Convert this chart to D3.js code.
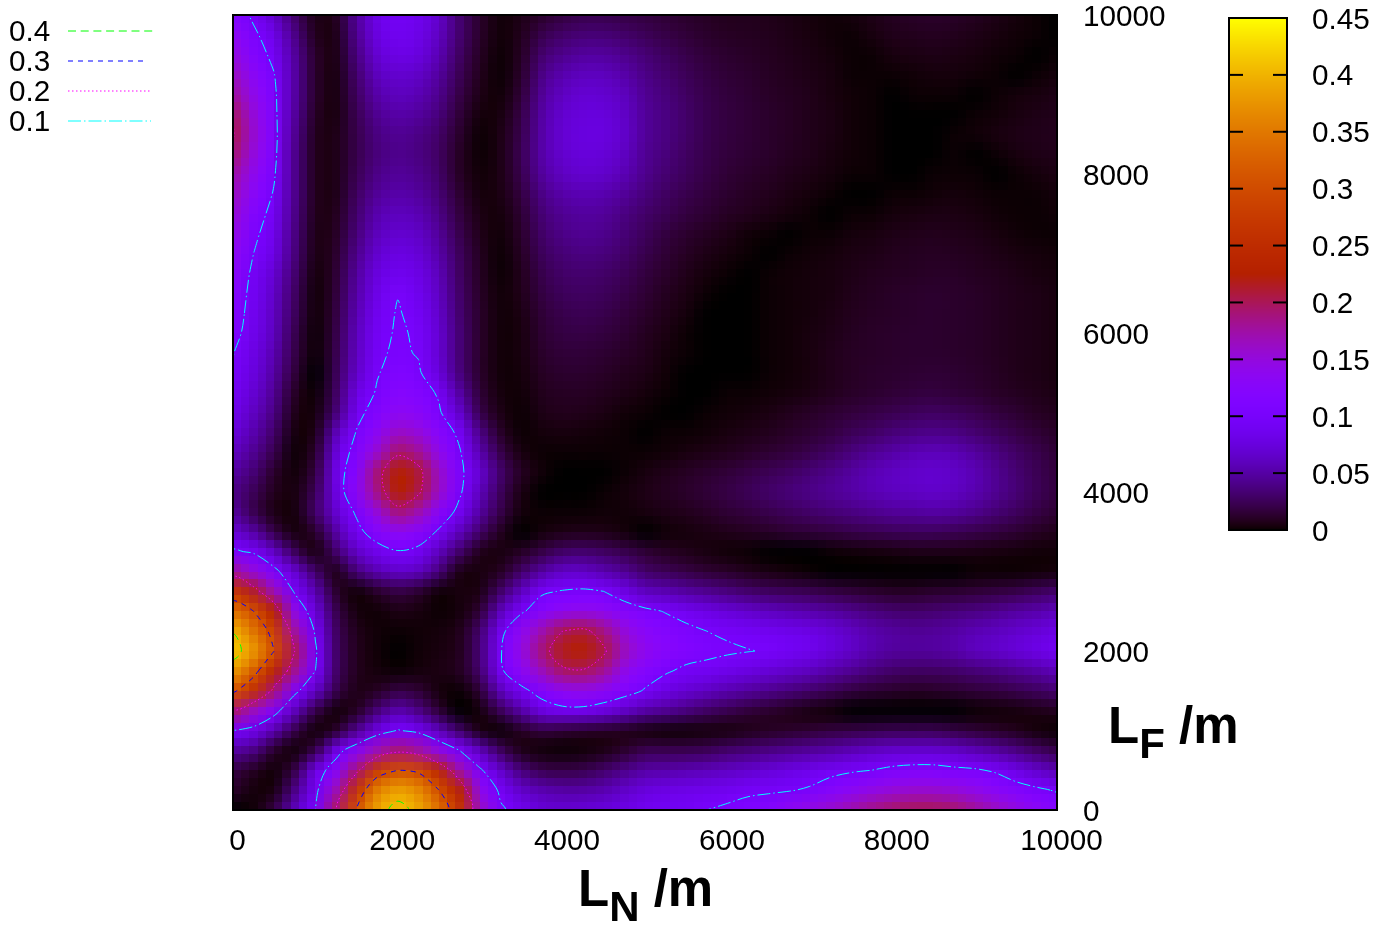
<!DOCTYPE html>
<html>
<head>
<meta charset="utf-8">
<style>
  html, body { margin: 0; background: #fff; }
  #chart { position: relative; width: 1392px; height: 928px; overflow: hidden; }
  canvas { position: absolute; image-rendering: pixelated; }
  svg { position: absolute; left: 0; top: 0; font-family: "Liberation Sans", Arial, sans-serif; }
  .domain { display: none; }
  .tick text { font-size: 29.7px; fill: #000; }
</style>
</head>
<body>
<div id="chart"></div>
<script src="https://d3js.org/d3.v7.min.js"></script>
<script>
// grid, 250 m steps, values in 1/1000
let lnGrid = d3.range(0, 10001, 250)
let lfGrid = d3.range(10000, -1, -250) // top row first
let zRows = [
[116,94,66,30,6, 8,48,82,92,86, 66,32,12,2,6, 12,18,22,22,20, 18,15,12,10,8, 8,7,5,3,2, 3,6,9,11,12, 11,9,6,3,1, 0],
[135,106,82,40,8, 6,44,78,88,82, 62,32,12,2,8, 22,30,34,34,30, 25,20,16,12,10, 9,8,6,4,2, 1,4,7,8,9, 8,6,4,2,1, 0],
[150,116,92,48,12, 5,38,70,80,76, 56,28,10,1,10, 32,42,48,48,42, 34,27,21,16,13, 11,9,7,5,3, 1,1,4,5,6, 5,4,2,1,0, 1],
[165,130,101,50,12, 4,32,60,68,64, 48,24,8,1,12, 40,54,60,60,52, 40,32,25,19,15, 13,10,8,6,4, 1,1,1,2,3, 3,2,1,0,1, 3],
[178,140,106,50,12, 4,28,52,60,56, 42,20,6,2,16, 46,62,70,68,60, 44,36,28,21,17, 14,11,9,7,4, 2,1,0,1,1, 1,0,1,3,4, 6],
[196,150,108,48,10, 4,24,44,52,48, 36,16,3,4,20, 50,68,74,74,64, 46,38,30,22,18, 15,12,10,7,5, 2,1,0,0,0, 0,1,2,4,6, 7],
[202,155,110,44,8, 6,22,38,44,40, 30,12,1,6,22, 52,70,76,76,66, 46,38,30,22,18, 15,12,10,7,5, 2,1,0,0,0, 1,2,4,6,7, 8],
[192,148,108,42,8, 6,22,36,42,38, 28,10,1,6,24, 52,68,74,72,62, 44,36,28,21,17, 14,12,9,7,4, 2,1,0,0,0, 1,0,1,4,6, 7],
[175,138,103,42,8, 6,24,40,46,42, 30,10,2,6,22, 48,62,68,66,56, 42,33,26,20,15, 12,10,7,5,3, 1,1,0,0,1, 1,1,0,1,3, 5],
[165,128,97,42,8, 6,28,46,52,48, 34,14,3,5,18, 40,52,56,54,46, 36,28,22,17,13, 10,8,5,3,1, 0,0,1,1,2, 3,2,1,1,1, 3],
[155,115,90,40,7, 8,32,54,60,56, 40,18,5,3,14, 34,44,48,46,38, 30,24,18,14,10, 8,5,3,1,0, 1,1,3,4,5, 5,4,2,1,1, 2],
[145,106,85,38,6, 10,36,60,68,64, 46,22,7,2,12, 30,40,44,42,34, 26,18,13,9,6, 2,1,0,1,1, 3,4,6,7,8, 7,6,4,2,1, 1],
[135,100,80,36,5, 12,42,68,78,72, 52,26,9,1,10, 26,34,38,36,30, 22,15,10,6,3, 1,0,1,2,3, 5,6,8,9,10, 9,8,6,4,3, 2],
[128,93,70,32,3, 14,48,76,86,80, 58,28,10,1,8, 22,30,32,30,25, 18,12,7,3,1, 0,1,2,3,4, 6,8,9,10,11, 11,9,8,6,4, 3],
[120,90,65,28,2, 16,52,82,99,86, 62,30,11,2,7, 19,26,28,26,21, 15,9,5,1,0, 0,1,2,3,4, 7,9,11,12,13, 12,11,9,7,6, 4],
[115,88,62,26,2, 18,56,88,102,92, 66,32,12,2,5, 16,22,24,22,17, 12,7,3,0,0, 0,1,2,3,5, 8,10,11,12,13, 12,11,9,7,6, 4],
[110,85,60,22,1, 20,60,92,103,97, 70,34,12,2,4, 14,19,20,18,14, 9,5,1,0,0, 0,1,2,4,6, 9,11,12,13,13, 12,11,9,7,6, 4],
[101,80,55,20,1, 22,62,95,105,98, 70,34,12,2,4, 12,16,16,14,11, 8,3,1,0,0, 0,1,2,4,7, 10,11,12,13,13, 12,11,9,7,6, 4],
[96,76,50,16,0, 24,66,98,112,104, 75,36,12,2,3, 10,13,13,11,8, 6,2,0,0,0, 0,1,2,4,7, 10,12,13,14,15, 14,12,10,7,6, 4],
[90,70,44,10,1, 28,80,103,122,115, 96,50,16,3,2, 8,10,10,8,6, 3,1,0,0,1, 1,2,3,5,8, 11,13,15,17,18, 16,14,11,9,7, 5],
[84,62,38,6,3, 34,90,115,135,128, 104,68,22,5,1, 6,8,7,5,2, 1,0,0,1,2, 3,5,8,11,14, 17,20,23,26,28, 26,23,18,14,10, 8],
[75,54,30,3,6, 58,102,132,160,150, 122,92,40,10,1, 3,4,3,2,1, 0,1,1,2,4, 6,8,11,14,18, 24,28,34,38,40, 38,32,26,20,15, 11],
[62,44,22,1,12, 75,113,155,195,180, 140,103,55,20,4, 1,1,1,1,1, 1,2,4,6,8, 11,14,17,22,28, 36,44,50,56,58, 56,48,38,29,22, 15],
[50,34,12,2,18, 85,120,190,225,210, 160,108,70,30,10, 2,0,0,0,1, 4,7,10,13,16, 20,24,28,34,40, 48,56,62,66,68, 64,56,44,33,24, 17],
[40,25,8,4,25, 80,130,185,225,205, 160,105,60,25,5, 0,0,0,1,3, 6,9,12,16,20, 25,30,35,40,45, 50,56,60,63,65, 62,54,44,34,25, 18],
[48,22,5,3,30, 70,105,150,190,170, 125,90,50,20,3, 1,1,1,2,2, 4,6,8,11,15, 18,22,26,30,34, 38,42,46,48,50, 48,42,34,27,20, 14],
[70,50,20,3,12, 50,90,118,135,125, 95,60,30,8,0, 3,6,7,6,3, 0,2,3,5,7, 9,11,14,16,18, 21,23,25,26,26, 24,21,18,14,10, 7],
[105,95,65,25,4, 30,65,85,98,90, 60,30,7,4,10, 20,30,32,28,22, 15,10,7,4,2, 1,0,0,0,1, 2,3,4,6,6, 6,5,4,3,2, 2],
[180,150,110,70,30, 6,35,55,65,60, 35,5,4,10,30, 50,65,65,55,45, 30,25,20,15,12, 8,5,3,1,0, 0,0,0,0,0, 0,1,1,1,2, 3],
[265,215,165,95,55, 12,2,12,20,14, 2,4,5,30,60, 95,102,105,100,80, 60,55,48,42,36, 30,26,24,22,18, 15,12,10,10,12, 13,15,17,20,25, 30],
[340,300,225,135,75, 22,3,2,6,4, 1,3,15,60,95, 120,135,140,135,120, 108,98,88,80,72, 66,60,56,52,48, 42,36,32,30,32, 35,38,42,48,52, 58],
[398,345,280,175,95, 28,7,2,1,2, 3,7,32,90,135, 170,200,208,185,150, 128,118,108,100,96, 92,88,84,80,72, 62,53,48,45,46, 50,56,60,66,72, 80],
[415,378,300,200,105, 30,8,2,0,2, 4,8,35,98,145, 190,218,225,205,165, 138,125,115,108,104, 101,98,92,85,75, 64,54,48,47,48, 52,60,65,72,80, 88],
[380,320,235,180,100, 30,8,3,1,3, 5,9,32,95,130, 165,195,198,180,140, 118,104,93,90,84, 78,72,66,60,52, 44,36,30,28,28, 30,34,38,44,50, 58],
[310,255,190,110,65, 22,6,10,20,15, 3,1,15,60,90, 115,135,140,130,115, 97,80,70,62,54, 48,42,36,30,24, 18,14,12,10,11, 13,16,18,22,26, 32],
[195,160,115,60,20, 2,10,35,55,40, 15,0,3,25,50, 80,90,90,80,65, 50,44,36,28,22, 16,12,8,4,2, 0,0,0,0,0, 0,1,2,3,6, 8],
[100,85,55,20,2, 12,45,80,102,90, 60,30,5,1,10, 18,15,12,10,8, 4,2,2,3,4, 7,10,12,15,18, 20,22,24,24,24, 20,16,12,8,3, 1],
[50,40,12,2,20, 85,125,165,190,175, 135,100,60,25,6, 2,1,2,5,12, 22,22,22,24,30, 34,38,42,46,50, 56,62,66,68,68, 64,56,48,38,28, 20],
[20,10,2,20,80, 120,190,270,300,290, 235,170,105,65,35, 22,20,22,30,40, 50,52,55,58,62, 67,72,78,83,90, 96,100,108,112,112, 107,104,96,80,66, 55],
[12,3,4,40,90, 165,260,355,385,365, 300,230,140,92,65, 55,50,50,55,65, 75,80,82,85,88, 94,96,98,104,118, 130,142,150,155,155, 150,140,128,115,106, 97],
[0,2,20,60,100, 195,305,385,412,390, 340,260,165,105,85, 72,70,72,75,80, 88,90,92,100,106, 112,118,135,145,158, 172,185,195,200,200, 195,180,165,148,132, 118]
]

let contourLevels = [0.4, 0.3, 0.2, 0.1]
let contourColors = ["#00ff00", "#0000ff", "#ff00ff", "#00ffff"]
let contourDashes = ["8,4.7", "5,5", "1.5,2.5", "13,3,1.5,3"]
let legendEnds = [155, 148, 151, 151]
let xTicks = [0, 2000, 4000, 6000, 8000, 10000]
let yTicks = [0, 2000, 4000, 6000, 8000, 10000]
let cbTicks = [0, 0.05, 0.1, 0.15, 0.2, 0.25, 0.3, 0.35, 0.4, 0.45]

let plot = {left: 233, right: 1057, top: 15, bottom: 810}
let cb = {left: 1229, right: 1287, top: 18, bottom: 530}
let cells = 100 // heatmap cell count per side

let x = d3.scaleLinear().domain([0, 10000]).range([plot.left, plot.right])
let y = d3.scaleLinear().domain([0, 10000]).range([plot.bottom, plot.top])
let cbY = d3.scaleLinear().domain([0, 0.45]).range([cb.bottom, cb.top])
let level = d3.scaleLinear().domain([0, 0.45]).range([0, 1]).clamp(true)

// gnuplot default palette (rgbformulae 7,5,15)
function palette(v) {
    let g = level(v)
    let b = Math.max(0, Math.sin(2 * Math.PI * g))
    return [Math.sqrt(g) * 255, g * g * g * 255, b * 255]
}

let chart = d3.select("#chart")

// heatmap: read-off grid to a small bitmap, resampled by the browser into blocks
let nx = lnGrid.length, ny = lfGrid.length
let small = document.createElement("canvas")
small.width = nx
small.height = ny
let sctx = small.getContext("2d")
let img = sctx.createImageData(nx, ny)
zRows.forEach((row, j) => row.forEach((z, i) => {
    let c = palette(z / 1000)
    let k = 4 * (j * nx + i)
    img.data[k] = c[0]; img.data[k + 1] = c[1]; img.data[k + 2] = c[2]; img.data[k + 3] = 255
}))
sctx.putImageData(img, 0, 0)

let heat = chart.append("canvas")
    .attr("width", cells).attr("height", cells)
    .style("left", plot.left + "px").style("top", plot.top + "px")
    .style("width", (x(10000) - x(0)) + "px").style("height", (y(0) - y(10000)) + "px")
let hctx = heat.node().getContext("2d")
hctx.imageSmoothingEnabled = true
hctx.imageSmoothingQuality = "high"
let half = cells / (nx - 1) / 2
hctx.drawImage(small, -half, -half, cells + 2 * half, cells + 2 * half)

let svg = chart.append("svg").attr("width", 1392).attr("height", 928)

svg.append("defs").append("clipPath").attr("id", "plotclip").append("rect")
    .attr("x", plot.left).attr("y", plot.top)
    .attr("width", plot.right - plot.left).attr("height", plot.bottom - plot.top)

// contours on the same grid
let gx = d3.scaleLinear().domain([0, nx - 1]).range([lnGrid[0], lnGrid[nx - 1]])
let gy = d3.scaleLinear().domain([0, ny - 1]).range([lfGrid[0], lfGrid[ny - 1]])
let contourLine = d3.line()
    .x(p => x(gx(p[0] - 0.5)))
    .y(p => y(gy(p[1] - 0.5)))
    .curve(d3.curveCatmullRomClosed.alpha(0.5))
let contourData = d3.contours().size([nx, ny]).smooth(true)
    .thresholds(contourLevels.map(d => d * 1000))(d3.merge(zRows))

svg.append("g").attr("clip-path", "url(#plotclip)")
    .selectAll("path").data(contourData).join("path")
    .attr("d", d => d.coordinates.flat().map(ring => contourLine(ring.slice(1))).join(""))
    .attr("fill", "none")
    .attr("stroke", d => contourColors[contourLevels.indexOf(d.value / 1000)])
    .attr("stroke-dasharray", d => contourDashes[contourLevels.indexOf(d.value / 1000)])
    .attr("stroke-width", 1)

svg.append("rect")
    .attr("x", plot.left).attr("y", plot.top)
    .attr("width", plot.right - plot.left).attr("height", plot.bottom - plot.top)
    .attr("fill", "none").attr("stroke", "#000").attr("stroke-width", 2)

// axes
let xAxis = svg.append("g")
    .attr("transform", `translate(4, ${plot.bottom + 16})`)
    .call(d3.axisBottom(x).tickValues(xTicks).tickSize(0).tickFormat(d3.format("d")))
xAxis.selectAll("line").remove()

let yAxis = svg.append("g")
    .attr("transform", `translate(1083, 1)`)
    .call(d3.axisRight(y).tickValues(yTicks).tickSize(0).tickPadding(0).tickFormat(d3.format("d")))
yAxis.selectAll("line").remove()

// colour box
svg.append("g").selectAll("rect")
    .data(d3.range(cb.top, cb.bottom, 1)).join("rect")
    .attr("x", cb.left).attr("width", cb.right - cb.left)
    .attr("y", d => d).attr("height", 1.2)
    .attr("fill", d => d3.rgb(...palette(cbY.invert(d + 0.5))))

let cbAxis = svg.append("g")
    .attr("transform", `translate(1312, 0.5)`)
    .call(d3.axisRight(cbY).tickValues(cbTicks).tickSize(0).tickPadding(0).tickFormat(d3.format("")))
cbAxis.selectAll("line").remove()

let cbMarks = svg.append("g").selectAll("g")
    .data(cbTicks.filter(d => d > 0 && d < 0.45)).join("g")
cbMarks.append("line").attr("x1", cb.left).attr("x2", cb.left + 14)
    .attr("y1", d => cbY(d)).attr("y2", d => cbY(d))
cbMarks.append("line").attr("x1", cb.right - 14).attr("x2", cb.right)
    .attr("y1", d => cbY(d)).attr("y2", d => cbY(d))
cbMarks.selectAll("line").attr("stroke", "#000").attr("stroke-width", 2)

svg.append("rect")
    .attr("x", cb.left).attr("y", cb.top)
    .attr("width", cb.right - cb.left).attr("height", cb.bottom - cb.top)
    .attr("fill", "none").attr("stroke", "#000").attr("stroke-width", 2)

// contour key
let key = svg.append("g").selectAll("g").data(contourLevels).join("g")
    .attr("transform", (d, i) => `translate(0, ${31 + i * 30})`)
key.append("text").text(d => d)
    .attr("x", 9).attr("dy", "0.34em")
    .style("font-size", "29.7px")
key.append("line")
    .attr("x1", 68).attr("x2", (d, i) => legendEnds[i])
    .attr("stroke", (d, i) => contourColors[i])
    .attr("stroke-dasharray", (d, i) => contourDashes[i])
    .attr("stroke-width", 1)

// axis titles
function axisTitle(xp, yp, sub) {
    let t = svg.append("text").attr("x", xp).attr("y", yp)
        .style("font-size", "51px").style("font-weight", "bold")
    t.append("tspan").text("L")
    t.append("tspan").text(sub).attr("dy", 15).style("font-size", "42px")
    t.append("tspan").text(" /m").attr("dy", -15)
}
axisTitle(578, 906, "N")
axisTitle(1108, 743, "F")
</script>
</body>
</html>
